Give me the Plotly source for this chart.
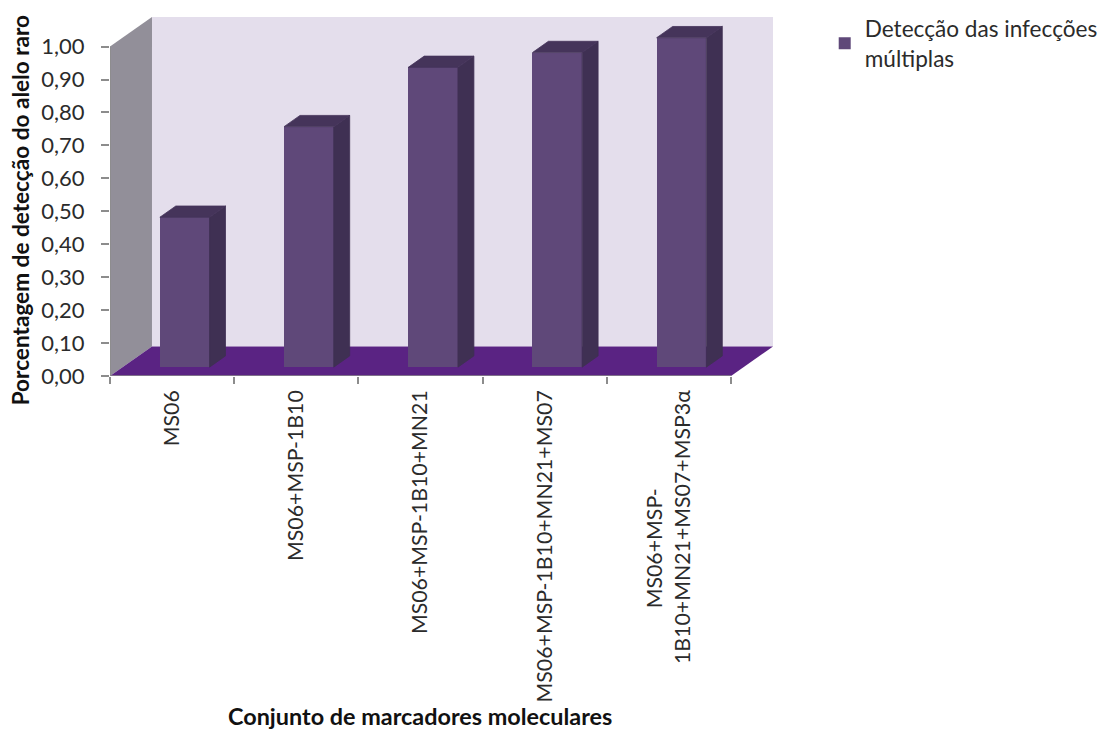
import plotly.graph_objects as go

# ---- data ----
categories = [
    "MS06",
    "MS06+MSP-1B10",
    "MS06+MSP-1B10+MN21",
    "MS06+MSP-1B10+MN21+MS07",
    "MS06+MSP-<br>1B10+MN21+MS07+MSP3α",
]
values = [0.455, 0.73, 0.91, 0.955, 1.00]
series_name = "Detecção das infecções<br>múltiplas"
y_tick_values = [0, 0.1, 0.2, 0.3, 0.4, 0.5, 0.6, 0.7, 0.8, 0.9, 1.0]
y_tick_labels = ["0,00", "0,10", "0,20", "0,30", "0,40", "0,50", "0,60", "0,70", "0,80", "0,90", "1,00"]
x_title = "Conjunto de marcadores moleculares"
y_title = "Porcentagem de detecção do alelo raro"

# ---- pseudo-3D geometry, in axis units ----
DX, DY = 0.338, 0.0898      # depth of the whole floor
BAR_W = 0.40                # bar width (category units)
FRONT = 0.30                # how far into the depth the bars begin
BAR_D = 0.38                # bar depth fraction

FONT = "Lato"
TEXT = "#2b2b2b"
WALL, SIDE_WALL, FLOOR = "#E4DEEC", "#928F99", "#5A2383"
BAR_FRONT, BAR_SIDE, BAR_TOP = "#5F4879", "#3F3053", "#45345A"
AXIS = "#8c8c8c"

n = len(categories)
centers = [float(i) for i in range(n)]
x_left, x_right = -0.5, n - 0.5
ox, oy = FRONT * DX, FRONT * DY
bx, by = BAR_D * DX, BAR_D * DY

# the two lines of a wrapped label are centred on each other in the reference
tick_text = [c.replace("<br>", "\u00a0" * 18 + "<br>") for c in categories]

fig = go.Figure()

fig.add_trace(go.Bar(
    x=[c + ox for c in centers], y=values, base=[oy] * n, width=BAR_W,
    name=series_name, marker=dict(color=BAR_FRONT, line_width=0),
    customdata=categories, hovertemplate="%{customdata}: %{y}<extra></extra>",
))

side_x, side_y, top_x, top_y = [], [], [], []
for c, v in zip(centers, values):
    x1 = c + ox + BAR_W / 2
    x0 = c + ox - BAR_W / 2
    t = v + oy
    side_x += [x1, x1 + bx, x1 + bx, x1, x1, None]
    side_y += [oy, oy + by, t + by, t, oy, None]
    top_x += [x0, x0 + bx, x1 + bx, x1, x0, None]
    top_y += [t, t + by, t + by, t, t, None]

for xs, ys, col in ((side_x, side_y, BAR_SIDE), (top_x, top_y, BAR_TOP)):
    fig.add_trace(go.Scatter(
        x=xs, y=ys, mode="lines", fill="toself", fillcolor=col,
        line=dict(width=0.8, color=col), showlegend=False, hoverinfo="skip",
    ))


def poly(pts, color):
    path = "M " + " L ".join(f"{a},{b}" for a, b in pts) + " Z"
    return dict(type="path", path=path, xref="x", yref="y", fillcolor=color,
                line_width=0, layer="below")


shapes = [
    poly([(x_left + DX, DY), (x_right + DX, DY), (x_right + DX, 1 + DY), (x_left + DX, 1 + DY)], WALL),
    poly([(x_left, 0), (x_left + DX, DY), (x_left + DX, 1 + DY), (x_left, 1)], SIDE_WALL),
    poly([(x_left, 0), (x_right, 0), (x_right + DX, DY), (x_left + DX, DY)], FLOOR),
    dict(type="line", xref="x", yref="y", x0=x_left, x1=x_right, y0=0, y1=0,
         line=dict(color=AXIS, width=1.5), layer="below"),
    dict(type="line", xref="x", yref="y", x0=x_left, x1=x_left, y0=0, y1=1,
         line=dict(color=AXIS, width=1.5), layer="below"),
]

fig.update_layout(
    width=1102, height=731,
    margin=dict(l=110, r=328.5, t=16.7, b=355.3, autoexpand=False),
    paper_bgcolor="white", plot_bgcolor="white",
    font=dict(family=FONT, color=TEXT, size=19),
    bargap=0, shapes=shapes,
    hovermode="closest",
    legend=dict(x=1.078, y=1.027, xanchor="left", yanchor="top", xref="paper", yref="paper",
                font=dict(family=FONT, size=22.6, color=TEXT), itemwidth=30,
                bgcolor="rgba(0,0,0,0)", traceorder="normal"),
    showlegend=True,
    xaxis=dict(
        range=[x_left, x_right + DX], showgrid=False, zeroline=False, showline=False,
        tickmode="array", tickvals=centers, ticktext=tick_text, tickangle=-90,
        ticks="", ticklabelstandoff=9, tickfont=dict(family=FONT, size=21.3, color=TEXT),
        minor=dict(tickmode="array", tickvals=[i - 0.5 for i in range(n + 1)],
                   ticks="outside", ticklen=7, tickwidth=1.5, tickcolor=AXIS, showgrid=False),
    ),
    yaxis=dict(
        range=[0, 1 + DY], showgrid=False, zeroline=False, showline=False,
        tickmode="array", tickvals=y_tick_values, ticktext=y_tick_labels,
        ticks="outside", ticklen=8, tickwidth=1.5, tickcolor=AXIS, ticklabelstandoff=12,
        tickfont=dict(family=FONT, size=22, color=TEXT),
    ),
    annotations=[
        dict(text=f"<b>{x_title}</b>", xref="paper", yref="paper", x=(420.5 - 110) / 663.5,
             y=-(716 - 375.7) / 359, xanchor="center", yanchor="middle", showarrow=False,
             font=dict(family=FONT, size=23.4, color="#111111")),
        dict(text=f"<b>{y_title}</b>", xref="paper", yref="paper", x=-(110 - 20) / 663.5,
             y=(375.7 - 210) / 359, xanchor="center", yanchor="middle", textangle=-90,
             showarrow=False, font=dict(family=FONT, size=22.6, color="#111111")),
    ],
)

fig.write_html("out.html", config={"displayModeBar": False},
               post_script="document.body.style.margin='0';document.body.style.overflow='hidden';")
